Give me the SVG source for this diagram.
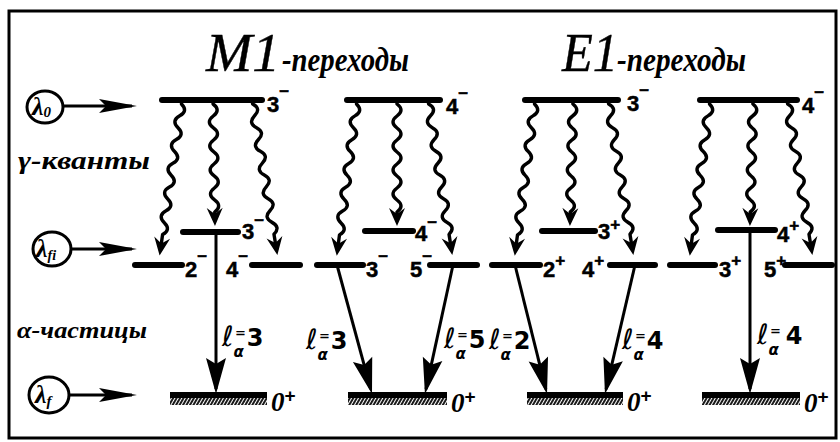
<svg xmlns="http://www.w3.org/2000/svg" width="840" height="442" viewBox="0 0 840 442">
<defs>
<style>
.bar{stroke:#000;stroke-width:6;stroke-linecap:round;fill:none}
.gnd{stroke:#000;stroke-width:6;stroke-linecap:butt;fill:none}
.hat{fill:url(#hatch)}
.wave{fill:none;stroke:#000;stroke-width:3.4;stroke-linejoin:round;marker-end:url(#mg)}
.alpha{stroke:#000;stroke-width:3;fill:none;marker-end:url(#ma)}
.inp{stroke:#000;stroke-width:3;fill:none;marker-end:url(#mi)}
.circ{fill:none;stroke:#000;stroke-width:3}
.lab{font-family:"Liberation Sans",Arial,sans-serif;font-weight:bold;font-size:22px;fill:#000;stroke:#000;stroke-width:0.5}
.sup{font-size:17px}
.zero{font-family:"Liberation Serif","Times New Roman",serif;font-style:italic;font-weight:bold;font-size:27px;fill:#000}
.zsup{font-family:"Liberation Sans",Arial,sans-serif;font-style:normal;font-size:19px}
.cur{font-family:"Liberation Serif","Times New Roman",serif;font-style:italic;font-weight:bold;fill:#000}
.cap{font-family:"Liberation Serif","Times New Roman",serif;font-style:italic;font-size:54px;fill:#000;stroke:#000;stroke-width:0.4}
.al{font-family:"DejaVu Sans","Liberation Sans",sans-serif;font-weight:bold;font-size:24px;fill:#000}
</style>
<marker id="mg" markerUnits="userSpaceOnUse" viewBox="-20 -10 22 20" markerWidth="22" markerHeight="20" refX="-5" refY="0" orient="auto"><path d="M0,0 L-18,-8 L-12,0 L-18,8Z"/></marker>
<marker id="ma" markerUnits="userSpaceOnUse" viewBox="-40 -12 42 24" markerWidth="42" markerHeight="24" refX="-5" refY="0" orient="auto"><path d="M0,0 L-36,-10 L-30,0 L-36,10Z"/></marker>
<marker id="mi" markerUnits="userSpaceOnUse" viewBox="-42 -9 44 18" markerWidth="44" markerHeight="18" refX="-5" refY="0" orient="auto"><path d="M0,0 L-38,-7 L-31,0 L-38,7Z"/></marker>
<pattern id="hatch" patternUnits="userSpaceOnUse" width="3" height="10" patternTransform="rotate(30)"><line x1="1" y1="0" x2="1" y2="10" stroke="#000" stroke-width="1.8"/></pattern>
<path id="wl" class="wave" d="M0,0 l0,4 q8,6 0,12 t0,12 t0,12 t0,12 t0,12 t0,12 t0,12 t0,12 t0,12 t0,12 t0,12 l0,16"/>
<path id="ws" class="wave" d="M0,0 l0,4 q8,6 0,12 t0,12 t0,12 t0,12 t0,12 t0,12 t0,12 t0,12 t0,12 l0,9"/>
</defs>
<rect x="0" y="0" width="840" height="442" fill="#fff"/>
<rect x="9" y="11" width="827" height="427" fill="none" stroke="#000" stroke-width="3"/>

<g id="titles">
<text class="cap" x="206" y="71" textLength="74" lengthAdjust="spacingAndGlyphs">M1</text>
<text class="cur" x="282" y="71" font-size="33" textLength="127" lengthAdjust="spacingAndGlyphs">-переходы</text>
<text class="cap" x="562" y="71" textLength="56" lengthAdjust="spacingAndGlyphs">E1</text>
<text class="cur" x="617" y="71" font-size="33" textLength="129" lengthAdjust="spacingAndGlyphs">-переходы</text>
</g>

<g id="side-labels">
<text class="cur" x="18" y="169" font-size="25" textLength="132" lengthAdjust="spacingAndGlyphs">γ-кванты</text>
<text class="cur" x="17" y="338" font-size="23" textLength="130" lengthAdjust="spacingAndGlyphs">α-частицы</text>
</g>

<g id="lambda0">
<ellipse class="circ" cx="45" cy="107" rx="18" ry="16"/>
<text class="cur" x="32" y="115" font-size="26">λ<tspan font-size="15" dy="2">0</tspan></text>
</g>
<g id="lambdafi">
<ellipse class="circ" cx="52" cy="249" rx="19" ry="17"/>
<text class="cur" x="36" y="257" font-size="26">λ<tspan font-size="14" dy="3">fi</tspan></text>
</g>
<g id="lambdaf">
<ellipse class="circ" cx="49" cy="395" rx="20" ry="18"/>
<text class="cur" x="35" y="403" font-size="26">λ<tspan font-size="15" dy="3">f</tspan></text>
</g>

<!-- Column 1: M1, 3- -->
<g id="m1a-top"><line class="bar" x1="162" y1="100" x2="262" y2="100"/><text class="lab" x="267" y="112">3<tspan class="sup" dy="-15">−</tspan></text></g>
<g id="m1a-mid"><line class="bar" x1="183" y1="232" x2="238" y2="232"/><text class="lab" x="242" y="239">3<tspan class="sup" dy="-13">−</tspan></text></g>
<g id="m1a-2"><line class="bar" x1="135" y1="265" x2="182" y2="265"/><text class="lab" x="185" y="277">2<tspan class="sup" dy="-15">−</tspan></text></g>
<g id="m1a-4"><line class="bar" x1="252" y1="265" x2="300" y2="265"/><text class="lab" x="226" y="277">4<tspan class="sup" dy="-15">−</tspan></text></g>
<g id="m1a-gnd"><line class="gnd" x1="170" y1="395" x2="267" y2="395"/><rect class="hat" x="170" y="398" width="97" height="7"/><text class="zero" x="271" y="411">0<tspan class="zsup" dy="-9">+</tspan></text></g>

<!-- Column 2: M1, 4- -->
<g id="m1b-top"><line class="bar" x1="347" y1="100" x2="440" y2="100"/><text class="lab" x="446" y="114">4<tspan class="sup" dy="-15">−</tspan></text></g>
<g id="m1b-mid"><line class="bar" x1="365" y1="231" x2="413" y2="231"/><text class="lab" x="415" y="241">4<tspan class="sup" dy="-13">−</tspan></text></g>
<g id="m1b-3"><line class="bar" x1="317" y1="265" x2="363" y2="265"/><text class="lab" x="366" y="277">3<tspan class="sup" dy="-15">−</tspan></text></g>
<g id="m1b-5"><line class="bar" x1="430" y1="265" x2="477" y2="265"/><text class="lab" x="410" y="277">5<tspan class="sup" dy="-15">−</tspan></text></g>
<g id="m1b-gnd"><line class="gnd" x1="348" y1="395" x2="447" y2="395"/><rect class="hat" x="348" y="398" width="99" height="7"/><text class="zero" x="451" y="412">0<tspan class="zsup" dy="-9">+</tspan></text></g>

<!-- Column 3: E1, 3- -->
<g id="e1a-top"><line class="bar" x1="525" y1="100" x2="618" y2="100"/><text class="lab" x="627" y="111">3<tspan class="sup" dy="-15">−</tspan></text></g>
<g id="e1a-mid"><line class="bar" x1="542" y1="231" x2="595" y2="231"/><text class="lab" x="598" y="239">3<tspan class="sup" dy="-9">+</tspan></text></g>
<g id="e1a-2"><line class="bar" x1="492" y1="265" x2="540" y2="265"/><text class="lab" x="543" y="277">2<tspan class="sup" dy="-11">+</tspan></text></g>
<g id="e1a-4"><line class="bar" x1="610" y1="265" x2="655" y2="265"/><text class="lab" x="582" y="277">4<tspan class="sup" dy="-11">+</tspan></text></g>
<g id="e1a-gnd"><line class="gnd" x1="527" y1="395" x2="623" y2="395"/><rect class="hat" x="527" y="398" width="96" height="7"/><text class="zero" x="627" y="411">0<tspan class="zsup" dy="-9">+</tspan></text></g>

<!-- Column 4: E1, 4- -->
<g id="e1b-top"><line class="bar" x1="700" y1="100" x2="797" y2="100"/><text class="lab" x="802" y="113">4<tspan class="sup" dy="-15">−</tspan></text></g>
<g id="e1b-mid"><line class="bar" x1="718" y1="230" x2="775" y2="230"/><text class="lab" x="777" y="242">4<tspan class="sup" dy="-11">+</tspan></text></g>
<g id="e1b-3"><line class="bar" x1="670" y1="265" x2="715" y2="265"/><text class="lab" x="719" y="277">3<tspan class="sup" dy="-11">+</tspan></text></g>
<g id="e1b-5"><line class="bar" x1="785" y1="265" x2="832" y2="265"/><text class="lab" x="764" y="277">5<tspan class="sup" dy="-11">+</tspan></text></g>
<g id="e1b-gnd"><line class="gnd" x1="702" y1="395" x2="800" y2="395"/><rect class="hat" x="702" y="398" width="98" height="7"/><text class="zero" x="804" y="412">0<tspan class="zsup" dy="-9">+</tspan></text></g>

<g id="connectors">
<line class="inp" x1="63" y1="106" x2="132" y2="106"/>
<line class="inp" x1="71" y1="249" x2="132" y2="249"/>
<line class="inp" x1="69" y1="395" x2="132" y2="395"/>
<use href="#wl" transform="translate(182,100) rotate(8.2)"/>
<use href="#ws" transform="translate(213,100) rotate(-0.9)"/>
<use href="#wl" transform="translate(252,100) rotate(-9.3)"/>
<use href="#wl" transform="translate(357,100) rotate(7.4)"/>
<use href="#ws" transform="translate(397,100)"/>
<use href="#wl" transform="translate(428,100) rotate(-8.9)"/>
<use href="#wl" transform="translate(535,100) rotate(7.4)"/>
<use href="#ws" transform="translate(573,100) rotate(1.4)"/>
<use href="#wl" transform="translate(608,100) rotate(-9.3)"/>
<use href="#wl" transform="translate(710,100) rotate(7.4)"/>
<use href="#ws" transform="translate(753,100) rotate(1.4)"/>
<use href="#wl" transform="translate(787,100) rotate(-9.3)"/>
<line class="alpha" x1="216" y1="232" x2="216" y2="389"/>
<line class="alpha" x1="337" y1="265" x2="370.7" y2="389.2"/>
<line class="alpha" x1="453" y1="265" x2="426" y2="389.1"/>
<line class="alpha" x1="515" y1="265" x2="545.8" y2="389.1"/>
<line class="alpha" x1="635" y1="265" x2="606.1" y2="389.1"/>
<line class="alpha" x1="750" y1="230" x2="750" y2="389"/>
</g>

<g id="alpha-labels">
<text class="al" x="222" y="346"><tspan font-size="28" font-weight="normal">ℓ</tspan><tspan font-size="15" dy="11" font-style="italic">α</tspan><tspan font-size="13" dx="-9" dy="-20">=</tspan><tspan dx="1" dy="9">3</tspan></text>
<text class="al" x="306" y="349"><tspan font-size="28" font-weight="normal">ℓ</tspan><tspan font-size="15" dy="11" font-style="italic">α</tspan><tspan font-size="13" dx="-9" dy="-20">=</tspan><tspan dx="1" dy="9">3</tspan></text>
<text class="al" x="444" y="348"><tspan font-size="28" font-weight="normal">ℓ</tspan><tspan font-size="15" dy="11" font-style="italic">α</tspan><tspan font-size="13" dx="-9" dy="-20">=</tspan><tspan dx="1" dy="9">5</tspan></text>
<text class="al" x="489" y="349"><tspan font-size="28" font-weight="normal">ℓ</tspan><tspan font-size="15" dy="11" font-style="italic">α</tspan><tspan font-size="13" dx="-9" dy="-20">=</tspan><tspan dx="1" dy="9">2</tspan></text>
<text class="al" x="622" y="349"><tspan font-size="28" font-weight="normal">ℓ</tspan><tspan font-size="15" dy="11" font-style="italic">α</tspan><tspan font-size="13" dx="-9" dy="-20">=</tspan><tspan dx="1" dy="9">4</tspan></text>
<text class="al" x="757" y="344"><tspan font-size="28" font-weight="normal">ℓ</tspan><tspan font-size="15" dy="11" font-style="italic">α</tspan><tspan font-size="13" dx="-9" dy="-20">=</tspan><tspan dx="5" dy="9">4</tspan></text>
</g>
</svg>
